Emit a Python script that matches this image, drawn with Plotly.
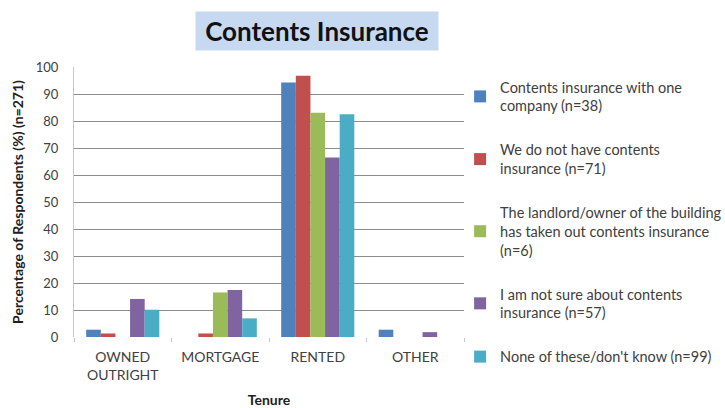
import plotly.graph_objects as go

# Tenure categories on the x axis
tenure = ["OWNED<br>OUTRIGHT", "MORTGAGE", "RENTED", "OTHER"]

# Percentage of respondents per insurance status, one list per series
insured_one_company = [2.7, 0.0, 94.3, 2.7]
no_contents_insurance = [1.3, 1.3, 96.8, 0.0]
landlord_insured = [0.0, 16.5, 83.1, 0.0]
not_sure = [14.1, 17.4, 66.5, 1.8]
none_dont_know = [10.1, 6.9, 82.5, 0.0]

series_names = [
    "Contents insurance with one<br>company (n=38)",
    "We do not have contents<br>insurance (n=71)",
    "The landlord/owner of the building<br>has taken out contents insurance<br>(n=6)",
    "I am not sure about contents<br>insurance (n=57)",
    "None of these/don't know (n=99)",
]
series_values = [
    insured_one_company,
    no_contents_insurance,
    landlord_insured,
    not_sure,
    none_dont_know,
]
series_colors = ["#4F81BD", "#C0504D", "#9BBB59", "#8064A2", "#4BACC6"]

y_ticks = list(range(0, 101, 10))

FONT = "Lato"
TEXT_COLOR = "#404040"

fig = go.Figure()
for i, (name, vals, col) in enumerate(zip(series_names, series_values, series_colors)):
    fig.add_trace(
        go.Bar(
            x=tenure,
            y=vals,
            name=name,
            marker=dict(color=col, line=dict(width=0)),
            legendgroup=f"g{i}",
        )
    )

fig.update_layout(
    width=725,
    height=408,
    autosize=False,
    margin=dict(l=74, r=261, t=67, b=71, autoexpand=False),
    paper_bgcolor="white",
    plot_bgcolor="white",
    barmode="group",
    bargap=0.25,
    bargroupgap=0,
    font=dict(family=FONT, size=13, color=TEXT_COLOR),
    showlegend=True,
    legend=dict(
        x=0.99,
        xanchor="left",
        y=0.985,
        yanchor="top",
        traceorder="grouped",
        tracegroupgap=22,
        itemwidth=30,
        maxheight=400,
        font=dict(family=FONT, size=14.5, color=TEXT_COLOR),
        bgcolor="rgba(0,0,0,0)",
    ),
    xaxis=dict(
        showgrid=False,
        showline=False,
        ticks="outside",
        tickson="boundaries",
        ticklen=4,
        tickcolor="#C8C8C8",
        ticklabelstandoff=10,
        tickfont=dict(family=FONT, size=14, color=TEXT_COLOR),
        title=dict(text="<b>Tenure</b>", font=dict(family=FONT, size=14, color="#202020"), standoff=14),
    ),
    yaxis=dict(
        range=[0, 100],
        tickvals=y_ticks,
        showgrid=True,
        gridcolor="#8C8C8C",
        gridwidth=1,
        zeroline=False,
        showline=True,
        linecolor="#C8C8C8",
        ticks="",
        ticklabelstandoff=12,
        tickfont=dict(family=FONT, size=13, color=TEXT_COLOR),
        title=dict(
            text="<b>Percentage of Respondents (%) (n=271)</b>",
            font=dict(family=FONT, size=14, color="#202020"),
            standoff=8,
        ),
    ),
    annotations=[
        dict(
            text="<b>Contents Insurance</b>",
            xref="paper",
            yref="paper",
            x=0.623,
            y=1.133,
            xanchor="center",
            yanchor="middle",
            showarrow=False,
            bgcolor="#C6D9F1",
            width=236,
            height=32,
            borderpad=3,
            font=dict(family=FONT, size=26, color="#111111"),
        )
    ],
)

fig.write_html("out.html")
